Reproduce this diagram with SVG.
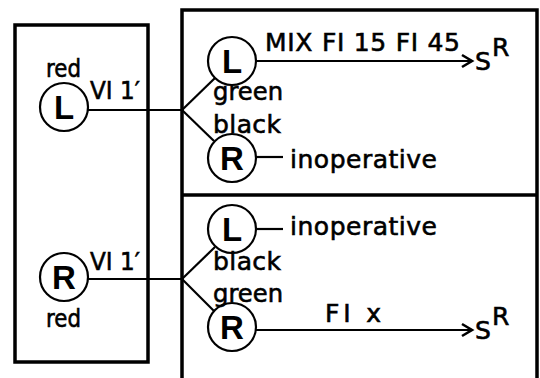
<svg xmlns="http://www.w3.org/2000/svg" width="540" height="378" viewBox="0 0 540 378">
<defs>
<marker id="arr" markerUnits="userSpaceOnUse" markerWidth="16" markerHeight="16" refX="13" refY="8" orient="auto">
<polyline points="3,2 13,8 3,14" fill="none" stroke="#000" stroke-width="2.6" stroke-linejoin="miter"/>
</marker>
</defs>
<style>
.box{fill:none;stroke:#000;stroke-width:3.5}
.c{fill:#fff;stroke:#000;stroke-width:2.2}
.ln{fill:none;stroke:#000;stroke-width:2.2}
.t{font-family:"DejaVu Sans","Liberation Sans",sans-serif;font-size:25px;fill:#000;stroke:#000;stroke-width:0.6}
.big{font-family:"Liberation Sans",sans-serif;font-size:33px;font-weight:bold;fill:#000;text-anchor:middle}
</style>
<rect width="540" height="378" fill="#fff"/>
<g id="frames">
<rect class="box" x="15" y="25" width="133" height="337"/>
<rect class="box" x="182" y="10" width="355" height="390"/>
<line class="box" x1="182" y1="195" x2="537" y2="195"/>
</g>
<g id="connectors">
<line class="ln" x1="87" y1="110" x2="182" y2="110"/>
<line class="ln" x1="182" y1="110" x2="215" y2="78"/>
<line class="ln" x1="182" y1="110" x2="214" y2="141"/>
<line class="ln" x1="256" y1="61" x2="472" y2="61" marker-end="url(#arr)"/>
<line class="ln" x1="256" y1="157" x2="283" y2="157"/>
<line class="ln" x1="87" y1="279" x2="182" y2="279"/>
<line class="ln" x1="182" y1="279" x2="215" y2="247"/>
<line class="ln" x1="182" y1="279" x2="214" y2="311"/>
<line class="ln" x1="256" y1="229" x2="283" y2="229"/>
<line class="ln" x1="256" y1="330" x2="472" y2="330" marker-end="url(#arr)"/>
</g>
<g id="left-L">
<circle class="c" cx="64" cy="107" r="24"/>
<text class="big" x="64" y="119">L</text>
<text class="t" x="46" y="77" textLength="35" lengthAdjust="spacingAndGlyphs">red</text>
<text class="t" x="90" y="99" textLength="50" lengthAdjust="spacingAndGlyphs">VI 1′</text>
</g>
<g id="left-R">
<circle class="c" cx="64" cy="277" r="24"/>
<text class="big" x="64" y="289">R</text>
<text class="t" x="90" y="270" textLength="50" lengthAdjust="spacingAndGlyphs">VI 1′</text>
<text class="t" x="46" y="327" textLength="35" lengthAdjust="spacingAndGlyphs">red</text>
</g>
<g id="top-L">
<circle class="c" cx="232" cy="61" r="24"/>
<text class="big" x="232" y="73">L</text>
<text class="t" x="265" y="51" textLength="195" lengthAdjust="spacing">MIX  FI 15 FI 45</text>
<text class="t" x="213" y="100" textLength="70" lengthAdjust="spacingAndGlyphs">green</text>
</g>
<g id="top-R">
<circle class="c" cx="232" cy="158" r="24"/>
<text class="big" x="232" y="170">R</text>
<text class="t" x="213" y="133" textLength="68" lengthAdjust="spacing">black</text>
<text class="t" x="290" y="168" textLength="147" lengthAdjust="spacing">inoperative</text>
</g>
<g id="bot-L">
<circle class="c" cx="232" cy="229" r="24"/>
<text class="big" x="232" y="241">L</text>
<text class="t" x="290" y="235" textLength="147" lengthAdjust="spacing">inoperative</text>
<text class="t" x="213" y="270" textLength="68" lengthAdjust="spacing">black</text>
</g>
<g id="bot-R">
<circle class="c" cx="232" cy="327" r="24"/>
<text class="big" x="232" y="339">R</text>
<text class="t" x="213" y="302" textLength="70" lengthAdjust="spacingAndGlyphs">green</text>
<text class="t" x="325" y="322" textLength="56" lengthAdjust="spacing">FI  x</text>
</g>
<g id="sinks">
<text class="t" x="475" y="70" font-size="25">S</text>
<text class="t" x="492" y="56" font-size="24">R</text>
<text class="t" x="475" y="339" font-size="25">S</text>
<text class="t" x="492" y="325" font-size="24">R</text>
</g>
</svg>
